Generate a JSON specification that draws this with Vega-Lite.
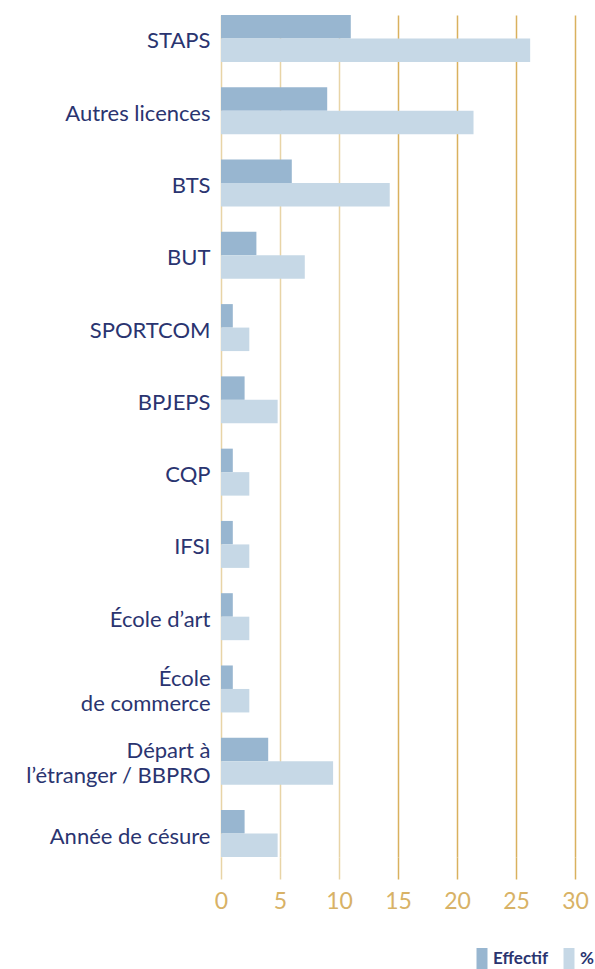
{
  "$schema": "https://vega.github.io/schema/vega-lite/v6.json",
  "autosize": "none",
  "width": 354,
  "height": 842,
  "padding": {"left": 221, "top": 15, "right": 20, "bottom": 112},
  "background": "white",
  "config": {"view": {"stroke": null}, "font": "Lato"},
  "data": {"values": [
    {"cat": "STAPS", "serie": "Effectif", "v": 11},
    {"cat": "STAPS", "serie": "%", "v": 26.2},
    {"cat": "Autres licences", "serie": "Effectif", "v": 9},
    {"cat": "Autres licences", "serie": "%", "v": 21.4},
    {"cat": "BTS", "serie": "Effectif", "v": 6},
    {"cat": "BTS", "serie": "%", "v": 14.3},
    {"cat": "BUT", "serie": "Effectif", "v": 3},
    {"cat": "BUT", "serie": "%", "v": 7.1},
    {"cat": "SPORTCOM", "serie": "Effectif", "v": 1},
    {"cat": "SPORTCOM", "serie": "%", "v": 2.4},
    {"cat": "BPJEPS", "serie": "Effectif", "v": 2},
    {"cat": "BPJEPS", "serie": "%", "v": 4.8},
    {"cat": "CQP", "serie": "Effectif", "v": 1},
    {"cat": "CQP", "serie": "%", "v": 2.4},
    {"cat": "IFSI", "serie": "Effectif", "v": 1},
    {"cat": "IFSI", "serie": "%", "v": 2.4},
    {"cat": "École d’art", "serie": "Effectif", "v": 1},
    {"cat": "École d’art", "serie": "%", "v": 2.4},
    {"cat": "École|de commerce", "serie": "Effectif", "v": 1},
    {"cat": "École|de commerce", "serie": "%", "v": 2.4},
    {"cat": "Départ à|l’étranger / BBPRO", "serie": "Effectif", "v": 4},
    {"cat": "Départ à|l’étranger / BBPRO", "serie": "%", "v": 9.5},
    {"cat": "Année de césure", "serie": "Effectif", "v": 2},
    {"cat": "Année de césure", "serie": "%", "v": 4.8}
  ]},
  "mark": {"type": "bar"},
  "encoding": {
    "y": {
      "field": "cat", "type": "nominal",
      "sort": ["STAPS", "Autres licences", "BTS", "BUT", "SPORTCOM", "BPJEPS", "CQP", "IFSI", "École d’art", "École|de commerce", "Départ à|l’étranger / BBPRO", "Année de césure"],
      "scale": {"paddingInner": 0.35, "paddingOuter": 0},
      "axis": {
        "title": null, "domain": false, "ticks": false, "labelPadding": 11,
        "labelFontSize": 22, "labelColor": "#2a3470", "labelLimit": 0,
        "labelLineHeight": 25, "labelExpr": "split(datum.label, '|')",
        "labelOffset": {"condition": {"test": "indexof(datum.value, '|') >= 0", "value": -10}, "value": 3}
      }
    },
    "yOffset": {"field": "serie", "type": "nominal", "sort": ["Effectif", "%"], "scale": {"paddingInner": 0, "paddingOuter": 0}},
    "x": {
      "field": "v", "type": "quantitative",
      "scale": {"domain": [0, 30], "nice": false},
      "axis": {
        "title": null, "domain": false, "grid": true, "values": [0, 5, 10, 15, 20, 25, 30],
        "gridColor": {"condition": {"test": "datum.value <= 10", "value": "#e8d4a6"}, "value": "#d9b15e"},
        "tickColor": {"condition": {"test": "datum.value <= 10", "value": "#e8d4a6"}, "value": "#d9b15e"},
        "gridWidth": 1.5, "tickWidth": 1.5, "tickSize": 22,
        "labelFlush": false,
        "labelFontSize": 23, "labelColor": "#d8b266", "labelPadding": 11
      }
    },
    "color": {
      "field": "serie", "type": "nominal",
      "scale": {"domain": ["Effectif", "%"], "range": ["#98b6d0", "#c6d8e6"]},
      "legend": {
        "title": null, "orient": "none", "direction": "horizontal",
        "legendX": 250, "legendY": 933, "padding": 0,
        "symbolType": "M-0.5,-1H0.5V1H-0.5Z", "symbolSize": 484, "symbolStrokeWidth": 0,
        "symbolOpacity": 1,
        "labelFontSize": 17, "labelFontWeight": "bold", "labelColor": "#2a3470",
        "labelOffset": 0, "columnPadding": 9
      }
    }
  }
}
